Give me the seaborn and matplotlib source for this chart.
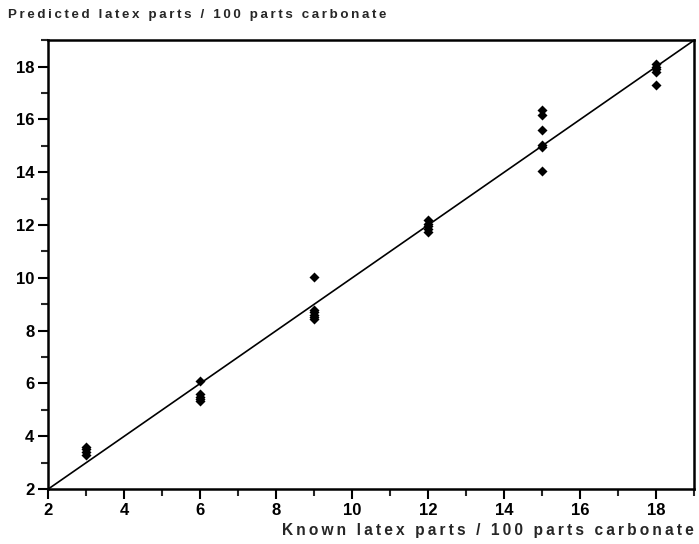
# Predicted vs known latex content, with the 1:1 line
import matplotlib

matplotlib.use("Agg")
import matplotlib.pyplot as plt
from matplotlib.ticker import MultipleLocator
import pandas as pd
import seaborn as sns

known = [3, 3, 3, 3,
         6, 6, 6, 6, 6,
         9, 9, 9, 9, 9, 9,
         12, 12, 12, 12, 12,
         15, 15, 15, 15, 15, 15,
         18, 18, 18, 18, 18]
predicted = [3.6, 3.5, 3.4, 3.3,
             6.1, 5.6, 5.5, 5.4, 5.35,
             10.05, 8.8, 8.7, 8.6, 8.5, 8.45,
             12.2, 12.05, 11.95, 11.85, 11.75,
             16.35, 16.15, 15.6, 15.05, 14.95, 14.05,
             18.1, 18.0, 17.9, 17.8, 17.3]
ideal = [2, 19]
y_title = "Predicted latex parts / 100 parts carbonate"
x_title = "Known latex parts / 100 parts carbonate"

df = pd.DataFrame({"known": known, "predicted": predicted})


def tracked(s):
    # old plotting package spaced its letters out; fake it with thin spaces
    return "\u2009".join(s)


sns.set_theme(style="ticks")
plt.rcParams["font.family"] = ["Liberation Sans", "DejaVu Sans"]
plt.rcParams["font.weight"] = "bold"

fig = plt.figure(figsize=(6.99, 5.44), dpi=100)
ax = fig.add_axes([0.069, 0.101, 0.924, 0.825])

sns.lineplot(x=ideal, y=ideal, ax=ax, color="black", linewidth=1.2)
sns.scatterplot(data=df, x="known", y="predicted", ax=ax, marker="D",
                color="black", s=26, edgecolor="black", linewidth=0)

ax.set_xlim(2, 19)
ax.set_ylim(2, 19)
ax.xaxis.set_major_locator(MultipleLocator(2))
ax.xaxis.set_minor_locator(MultipleLocator(1))
ax.yaxis.set_major_locator(MultipleLocator(2))
ax.yaxis.set_minor_locator(MultipleLocator(1))
ax.tick_params(which="major", length=7, width=1.5, labelsize=12, pad=3,
               colors="black")
ax.tick_params(which="minor", length=5, width=1.5)
for lab in ax.get_xticklabels() + ax.get_yticklabels():
    lab.set_fontweight("bold")
for sp in ax.spines.values():
    sp.set_visible(True)
    sp.set_linewidth(1.8)
    sp.set_color("black")

ax.set_xlabel("")
ax.set_ylabel("")
fig.text(0.012, 0.972, tracked(y_title),
         fontsize=9.6, fontweight="bold", ha="left", va="center")
fig.text(0.992, 0.025, tracked(x_title),
         fontsize=11.2, fontweight="bold", ha="right", va="center")

fig.savefig("out.png", dpi=100)
